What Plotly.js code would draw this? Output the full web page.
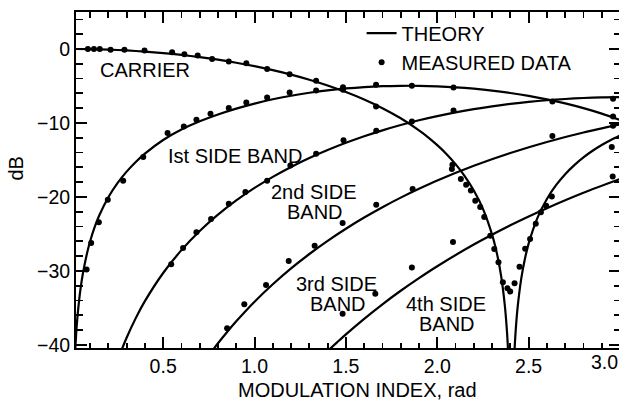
<!DOCTYPE html>
<html>
<head>
<meta charset="utf-8">
<script src="https://cdn.plot.ly/plotly-3.0.1.min.js"></script>
<style>
html,body{margin:0;padding:0;overflow:hidden;background:#fff;}
#chart{width:622px;height:402px;}
</style>
</head>
<body>
<div id="chart"></div>
<script>
// ---------- Theory curves (dB relative to unmodulated carrier) ----------
const carrierBetaL = [0.023,0.1,0.2,0.3,0.4,0.5,0.6,0.7,0.8,0.9,1.0,1.1,1.2,1.3,1.4,1.5,1.6,1.7,1.8,1.9,1.95,2.0,2.05,2.1,2.15,2.2,2.25,2.3,2.33,2.35,2.37,2.38,2.385,2.39];
const carrierDbL   = [0,-0.022,-0.087,-0.197,-0.351,-0.552,-0.800,-1.099,-1.449,-1.857,-2.324,-2.858,-3.464,-4.151,-4.931,-5.818,-6.832,-8.003,-9.371,-11.00,-11.94,-13.00,-14.19,-15.57,-17.18,-19.14,-21.61,-25.11,-28.06,-30.79,-34.75,-37.69,-39.64,-42.15];
const carrierBetaR = [2.42,2.425,2.43,2.44,2.46,2.48,2.5,2.55,2.6,2.65,2.7,2.75,2.8,2.85,2.9,2.95,3.0];
const carrierDbR   = [-42.2,-39.71,-37.78,-34.88,-30.99,-28.33,-26.31,-22.74,-20.28,-18.42,-16.93,-15.70,-14.65,-13.76,-12.98,-12.30,-11.70];

const sb1Beta = [0.018,0.025,0.03,0.04,0.05,0.06,0.08,0.1,0.125,0.15,0.2,0.25,0.3,0.35,0.4,0.5,0.6,0.7,0.8,0.9,1.0,1.1,1.2,1.3,1.4,1.5,1.6,1.7,1.8,1.9,2.0,2.1,2.2,2.3,2.4,2.5,2.6,2.7,2.8,2.9,3.0];
const sb1Db   = [-40.92,-38.06,-36.48,-33.98,-32.04,-30.46,-27.98,-26.03,-24.10,-22.52,-20.04,-18.13,-16.58,-15.27,-14.15,-12.31,-10.90,-9.78,-8.85,-8.06,-7.38,-6.80,-6.32,-5.92,-5.59,-5.34,-5.15,-5.03,-4.98,-4.98,-5.05,-5.18,-5.37,-5.62,-5.95,-6.34,-6.81,-7.36,-8.00,-8.74,-9.60];

const sb2Beta = [0.275,0.3,0.35,0.4,0.5,0.6,0.7,0.8,0.9,1.0,1.1,1.2,1.3,1.4,1.5,1.6,1.7,1.8,1.9,2.0,2.1,2.2,2.3,2.4,2.5,2.6,2.7,2.8,2.9,3.0];
const sb2Db   = [-40.54,-39.04,-36.39,-34.10,-30.29,-27.20,-24.61,-22.40,-20.48,-18.79,-17.29,-15.95,-14.75,-13.67,-12.69,-11.80,-11.00,-10.28,-9.63,-9.07,-8.58,-8.14,-7.76,-7.43,-7.15,-6.93,-6.76,-6.63,-6.55,-6.52];

const sb3Beta = [0.775,0.8,0.85,0.9,1.0,1.1,1.2,1.3,1.4,1.5,1.6,1.7,1.8,1.9,2.0,2.2,2.4,2.6,2.8,3.0];
const sb3Db   = [-40.60,-39.79,-38.26,-36.82,-34.17,-31.81,-29.66,-27.72,-25.94,-24.30,-22.79,-21.39,-20.10,-18.91,-17.79,-15.79,-14.06,-12.57,-11.29,-10.20];

const sb4Beta = [1.41,1.45,1.5,1.6,1.7,1.8,1.9,2.0,2.2,2.4,2.5,2.6,2.8,3.0];
const sb4Db   = [-40.61,-39.70,-38.58,-36.48,-34.52,-32.69,-30.98,-29.37,-26.44,-23.84,-22.64,-21.52,-19.44,-17.59];

// ---------- Measured data ----------
const carrierMeasBeta = [0.088,0.121,0.153,0.212,0.288,0.398,0.549,0.616,0.689,0.768,0.859,0.955,1.069,1.192,1.337,1.484,1.665,2.083,2.080,2.129,2.158,2.184,2.208,2.235,2.257,2.290,2.312,2.335,2.359,2.384,2.399,2.423,2.450,2.481,2.508,2.539,2.567,2.596,2.627,2.955];
const carrierMeasDb   = [0,0,0,-0.12,-0.1,-0.22,-0.43,-0.70,-0.89,-1.34,-1.70,-1.92,-2.69,-3.40,-4.31,-5.52,-7.78,-15.65,-16.23,-17.58,-18.35,-19.12,-20.51,-21.36,-22.71,-25.24,-27.04,-28.85,-31.55,-32.36,-32.80,-31.68,-29.43,-27.00,-25.69,-23.62,-22.09,-21.19,-19.93,-13.26];

const sb1MeasBeta = [0.081,0.106,0.148,0.197,0.281,0.391,0.524,0.613,0.682,0.759,0.859,0.955,1.069,1.192,1.337,1.484,1.665,1.861,2.089,2.630,2.962];
const sb1MeasDb   = [-29.83,-26.23,-23.44,-20.38,-17.81,-14.61,-11.37,-10.48,-9.57,-8.76,-7.99,-7.24,-6.56,-5.89,-5.62,-5.16,-4.85,-4.98,-5.21,-7.10,-9.13];

const sb2MeasBeta = [0.544,0.609,0.682,0.762,0.859,0.950,1.069,1.196,1.337,1.487,1.666,1.861,2.089,2.962];
const sb2MeasDb   = [-29.09,-26.90,-24.79,-22.98,-20.92,-19.34,-17.81,-15.75,-14.17,-12.34,-11.06,-9.80,-8.32,-6.74];

const sb3MeasBeta = [0.850,0.944,1.063,1.187,1.329,1.482,1.666,1.865,2.630,2.962];
const sb3MeasDb   = [-37.76,-34.52,-31.90,-28.66,-26.59,-23.52,-21.05,-18.93,-11.78,-10.38];

const sb4MeasBeta = [1.482,1.661,1.861,2.086,2.960];
const sb4MeasDb   = [-35.81,-33.11,-29.56,-26.09,-17.23];

// ---------- Ticks ----------
const xTickVals = [0.5,1.0,1.5,2.0,2.5,3.0];
const xTickText = ['0.5','1.0','1.5','2.0','2.5',''];
const xMinorVals = [0.1,0.2,0.3,0.4,0.6,0.7,0.8,0.9,1.1,1.2,1.3,1.4,1.6,1.7,1.8,1.9,2.1,2.2,2.3,2.4,2.6,2.7,2.8,2.9];
const yTickVals = [0,-10,-20,-30,-40];
const yMinorVals = [4,2,-2,-4,-6,-8,-12,-14,-16,-18,-22,-24,-26,-28,-32,-34,-36,-38];

const FONT = 'Liberation Sans, Arial, Helvetica, sans-serif';
const X_RANGE = [0.023, 3.0];
const Y_RANGE = [-40.43, 5.0];

function theory(x, y, show) {
  return {x: x, y: y, type: 'scatter', mode: 'lines', name: 'THEORY',
    showlegend: show, legendgroup: 'theory', hoverinfo: 'skip',
    line: {color: '#000', width: 2.2, shape: 'spline', smoothing: 0.8}};
}
function meas(x, y, show) {
  return {x: x, y: y, type: 'scatter', mode: 'markers', name: 'MEASURED DATA',
    showlegend: show, legendgroup: 'meas', hoverinfo: 'skip',
    marker: {color: '#000', size: 6, symbol: 'circle'}};
}

const data = [
  theory(carrierBetaL, carrierDbL, true),
  theory(carrierBetaR, carrierDbR, false),
  theory(sb1Beta, sb1Db, false),
  theory(sb2Beta, sb2Db, false),
  theory(sb3Beta, sb3Db, false),
  theory(sb4Beta, sb4Db, false),
  meas(carrierMeasBeta, carrierMeasDb, true),
  meas(sb1MeasBeta, sb1MeasDb, false),
  meas(sb2MeasBeta, sb2MeasDb, false),
  meas(sb3MeasBeta, sb3MeasDb, false),
  meas(sb4MeasBeta, sb4MeasDb, false),
  // empty trace that carries the minor-tick overlay axes
  {x: [], y: [], xaxis: 'x2', yaxis: 'y2', type: 'scatter', mode: 'markers', showlegend: false, hoverinfo: 'skip'}
];

function lab(text, x, y) {
  return {text: text, x: x, y: y, xref: 'x', yref: 'y', showarrow: false,
    font: {family: FONT, size: 20, color: '#000'}, xanchor: 'center', yanchor: 'middle'};
}

const layout = {
  width: 622, height: 402,
  margin: {l: 76, r: 1.5, t: 12, b: 53.5, pad: 0},
  paper_bgcolor: '#fff', plot_bgcolor: '#fff',
  font: {family: FONT, size: 19.5, color: '#000'},
  showlegend: true,
  legend: {x: 0.525, xanchor: 'left', y: 0.995, yanchor: 'top',
    bgcolor: 'rgba(0,0,0,0)', borderwidth: 0, itemwidth: 30, tracegroupgap: 0,
    font: {family: FONT, size: 20, color: '#000'}},
  xaxis: {
    range: X_RANGE, showline: true, linewidth: 2, linecolor: '#000',
    mirror: 'allticks', ticks: 'inside', ticklen: 11, tickwidth: 2, tickcolor: '#000',
    tickmode: 'array', tickvals: xTickVals, ticktext: xTickText,
    showgrid: false, zeroline: false,
    tickfont: {family: FONT, size: 19.5, color: '#000'}
  },
  yaxis: {
    range: Y_RANGE, showline: true, linewidth: 2, linecolor: '#000',
    mirror: 'allticks', ticks: 'inside', ticklen: 11, tickwidth: 2, tickcolor: '#000',
    tickmode: 'array', tickvals: yTickVals,
    showgrid: false, zeroline: false,
    tickfont: {family: FONT, size: 19.5, color: '#000'}
  },
  xaxis2: {
    overlaying: 'x', anchor: 'y2', range: X_RANGE, showline: false,
    mirror: 'allticks', ticks: 'inside', ticklen: 5.5, tickwidth: 1.8, tickcolor: '#000',
    tickmode: 'array', tickvals: xMinorVals, showticklabels: false,
    showgrid: false, zeroline: false
  },
  yaxis2: {
    overlaying: 'y', anchor: 'x2', range: Y_RANGE, showline: false,
    mirror: 'allticks', ticks: 'inside', ticklen: 6.5, tickwidth: 1.8, tickcolor: '#000',
    tickmode: 'array', tickvals: yMinorVals, showticklabels: false,
    showgrid: false, zeroline: false
  },
  annotations: [
    lab('CARRIER', 0.400, -2.82),
    lab('Ist SIDE BAND', 0.895, -14.53),
    lab('2nd SIDE', 1.327, -19.37),
    lab('BAND', 1.329, -22.07),
    lab('3rd SIDE', 1.451, -31.82),
    lab('BAND', 1.456, -34.52),
    lab('4th SIDE', 2.047, -34.52),
    lab('BAND', 2.052, -37.16),
    {text: '3.0', xref: 'x', x: 2.915, yref: 'paper', y: 0, yshift: -14, showarrow: false,
      xanchor: 'center', yanchor: 'middle', font: {family: FONT, size: 19.5, color: '#000'}},
    {text: 'MODULATION INDEX, rad', xref: 'paper', x: 0.518, yref: 'paper', y: 0, yshift: -41.5,
      showarrow: false, xanchor: 'center', yanchor: 'middle', font: {family: FONT, size: 20, color: '#000'}},
    {text: 'dB', xref: 'paper', x: -0.111, yref: 'paper', y: 0.533, textangle: -90,
      showarrow: false, xanchor: 'center', yanchor: 'middle', font: {family: FONT, size: 20, color: '#000'}}
  ]
};

Plotly.newPlot('chart', data, layout, {staticPlot: true, displayModeBar: false});
</script>
</body>
</html>
